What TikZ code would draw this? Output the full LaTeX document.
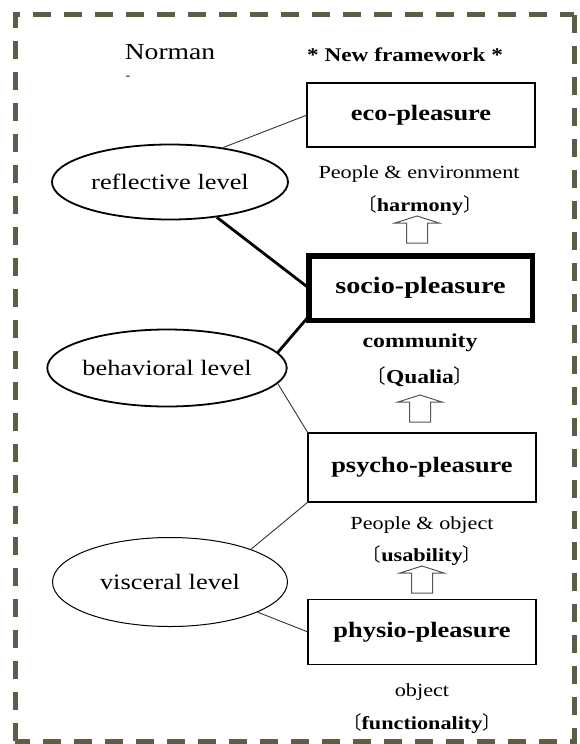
\documentclass[tikz,border=0pt]{standalone}
\usepackage{fontspec}
\setmainfont{Liberation Serif}[FakeStretch=1.2]
\newfontfamily\cjkfont{Noto Sans CJK SC}
\usetikzlibrary{shapes.geometric,calc}
\newcommand\lvlfont{\fontsize{22}{26}\selectfont}
\newcommand\bxfont{\fontsize{22}{26}\selectfont\bfseries}
\newcommand\labfont{\fontsize{18.5}{22}\selectfont}
\definecolor{frame}{HTML}{5E5E48}
\definecolor{thinline}{HTML}{333333}
\definecolor{arrowgray}{HTML}{555555}
\begin{document}
\begin{tikzpicture}[x=1pt,y=-1pt,
  levelnode/.style={ellipse,draw=black,line width=1.8pt,inner sep=0pt,font=\lvlfont},
  pleasurebox/.style={rectangle,draw=black,line width=1.3pt,inner sep=0pt,outer sep=0pt,minimum width=228pt,font=\bxfont},
  lab/.style={font=\labfont,inner sep=0pt,anchor=base},
  thinconn/.style={draw=thinline,line width=0.9pt},
  thickconn/.style={draw=black,line width=2.8pt},
  blockup/.pic={\draw[arrowgray,line width=1pt,fill=white]
     (-10.5,0) -- (-10.5,-20) -- (-22,-20) -- (0,-27) -- (22,-20) -- (10.5,-20) -- (10.5,0) -- cycle;}
]
\useasboundingbox (0,0) rectangle (580,744);
% frame
\draw[frame,line width=5pt,dash pattern=on 18pt off 13pt] (15,741) -- (15,14.5) -- (574,14.5);
\draw[frame,line width=5pt,dash pattern=on 18pt off 13pt] (574,14.5) -- (574,741) -- (15,741);

% headings
\node[font=\fontsize{23}{27}\selectfont,inner sep=0pt,anchor=base] (norman) at (170,59) {Norman};
\node[font=\fontsize{12}{14}\selectfont,inner sep=0pt] (normandash) at (128,78) {-};
\node[font=\fontsize{19.4}{23}\selectfont\bfseries,inner sep=0pt,anchor=base] (newfw) at (405,61) {* New framework *};

% levels
\node[levelnode,minimum width=236pt,minimum height=75pt] (refl) at (170,182) {reflective level};
\node[levelnode,minimum width=237pt,minimum height=77pt] (beh) at (167,368) {behavioral level};
\node[levelnode,line width=1pt,minimum width=235pt,minimum height=89pt] (visc) at (170,582) {visceral level};

% boxes
\node[pleasurebox,minimum height=64pt] (eco) at (421,115) {eco-pleasure};
\node[pleasurebox,line width=5.5pt,minimum width=223.5pt,minimum height=64.5pt,font=\fontsize{23.5}{27}\selectfont\bfseries] (socio) at (420.5,288) {socio-pleasure};
\node[pleasurebox,minimum height=69pt] (psycho) at (422,467.5) {psycho-pleasure};
\node[pleasurebox,minimum height=65pt] (physio) at (422,632) {physio-pleasure};

% labels
\node[lab] (envlab) at (419,178) {People \& environment};
\node[lab] (harmlab) at (420,211) {{\cjkfont 〔}\textbf{harmony}{\cjkfont 〕}};
\node[lab,font=\fontsize{19.8}{23}\selectfont\bfseries] (commlab) at (420,347) {community};
\node[lab,font=\fontsize{19.6}{23}\selectfont] (qualab) at (420,383) {{\cjkfont 〔}\textbf{Qualia}{\cjkfont 〕}};
\node[lab] (objlab) at (422,529) {People \& object};
\node[lab] (usalab) at (422,561) {{\cjkfont 〔}\textbf{usability}{\cjkfont 〕}};
\node[lab] (objonly) at (422,696) {object};
\node[lab] (funclab) at (422,729) {{\cjkfont 〔}\textbf{functionality}{\cjkfont 〕}};

% block arrows
\pic at (417,243) {blockup};
\pic at (420,422) {blockup};
\pic at (422,593) {blockup};

% connectors
\draw[thinconn] (refl.33) -- (eco.west);
\draw[thickconn] (refl.-37) -- (socio.west);
\draw[thickconn] (beh.8) -- ([yshift=4pt]socio.south west);
\draw[thinconn] (beh.-8) -- (psycho.north west);
\draw[thinconn] (visc.22) -- (psycho.south west);
\draw[thinconn] (visc.-19) -- (physio.west);
\end{tikzpicture}
\end{document}
